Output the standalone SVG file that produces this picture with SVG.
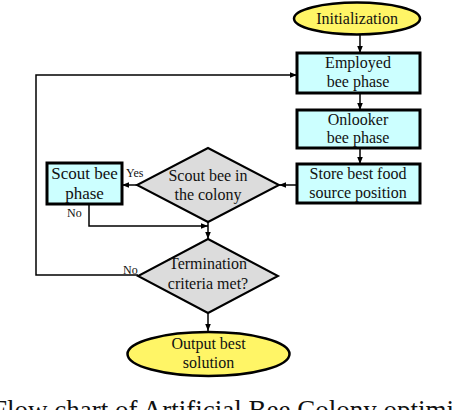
<svg xmlns="http://www.w3.org/2000/svg" width="456" height="410" viewBox="0 0 456 410">
<defs>
<marker id="ah" viewBox="0 0 10 10" refX="10" refY="5" markerWidth="7" markerHeight="7" markerUnits="userSpaceOnUse" orient="auto">
<path d="M0,1 L10,5 L0,9 z" fill="#000"/>
</marker>
<style>
.t{font-family:'Liberation Serif','Times New Roman',serif;font-size:16px;fill:#111;text-anchor:middle}
.s{font-family:'Liberation Serif','Times New Roman',serif;font-size:12px;fill:#111}
.box{fill:#ccffff;stroke:#000;stroke-width:3}
.ell{fill:#fff566;stroke:#000;stroke-width:2.5}
.dia{fill:#dcdcdc;stroke:#000;stroke-width:2}
.c{fill:none;stroke:#000;stroke-width:1.5}
</style>
</defs>
<rect width="456" height="410" fill="#fff"/>
<g id="connectors">
<path class="c" d="M360,35 V53" marker-end="url(#ah)"/>
<path class="c" d="M360,93 V110" marker-end="url(#ah)"/>
<path class="c" d="M360,148 V164" marker-end="url(#ah)"/>
<path class="c" d="M297,185 H279" marker-end="url(#ah)"/>
<path class="c" d="M137,185 H122" marker-end="url(#ah)"/>
<path class="c" d="M89,204 V226 H208" marker-end="url(#ah)"/>
<path class="c" d="M208,222 V239" marker-end="url(#ah)"/>
<path class="c" d="M138,275 H36 V75 H297" marker-end="url(#ah)"/>
<path class="c" d="M208,313 V331" marker-end="url(#ah)"/>
<text class="s" x="126" y="177">Yes</text>
<text class="s" x="67" y="217">No</text>
<text class="s" x="123" y="274">No</text>
</g>
<g id="init">
<ellipse class="ell" cx="357" cy="18.5" rx="63" ry="16"/>
<text class="t" x="357" y="24">Initialization</text>
</g>
<g id="employed">
<rect class="box" x="297" y="53" width="123" height="40"/>
<text class="t" x="358" y="68">Employed</text>
<text class="t" x="358" y="87">bee phase</text>
</g>
<g id="onlooker">
<rect class="box" x="297" y="110" width="123" height="38"/>
<text class="t" x="358" y="125">Onlooker</text>
<text class="t" x="358" y="143">bee phase</text>
</g>
<g id="store">
<rect class="box" x="297" y="164" width="123" height="39"/>
<text class="t" x="358" y="179">Store best food</text>
<text class="t" x="358" y="198">source position</text>
</g>
<g id="scoutdec">
<polygon class="dia" points="208,148 279,185 208,222 137,185"/>
<text class="t" x="208" y="181">Scout bee in</text>
<text class="t" x="208" y="200">the colony</text>
</g>
<g id="scout">
<rect class="box" x="47" y="163" width="75" height="41"/>
<text class="t" x="84.5" y="179" style="font-size:17px">Scout bee</text>
<text class="t" x="84.5" y="199" style="font-size:17px">phase</text>
</g>
<g id="term">
<polygon class="dia" points="208,239 278,276 208,313 138,276"/>
<text class="t" x="208" y="269">Termination</text>
<text class="t" x="208" y="289">criteria met?</text>
</g>
<g id="output">
<ellipse class="ell" cx="208.5" cy="354" rx="81" ry="22"/>
<text class="t" x="208.5" y="349">Output best</text>
<text class="t" x="208.5" y="368">solution</text>
</g>
<text x="-8" y="419" style="font-family:'Liberation Serif','Times New Roman',serif;font-size:27px;fill:#111">Flow chart of Artificial Bee Colony optimi</text>
</svg>
